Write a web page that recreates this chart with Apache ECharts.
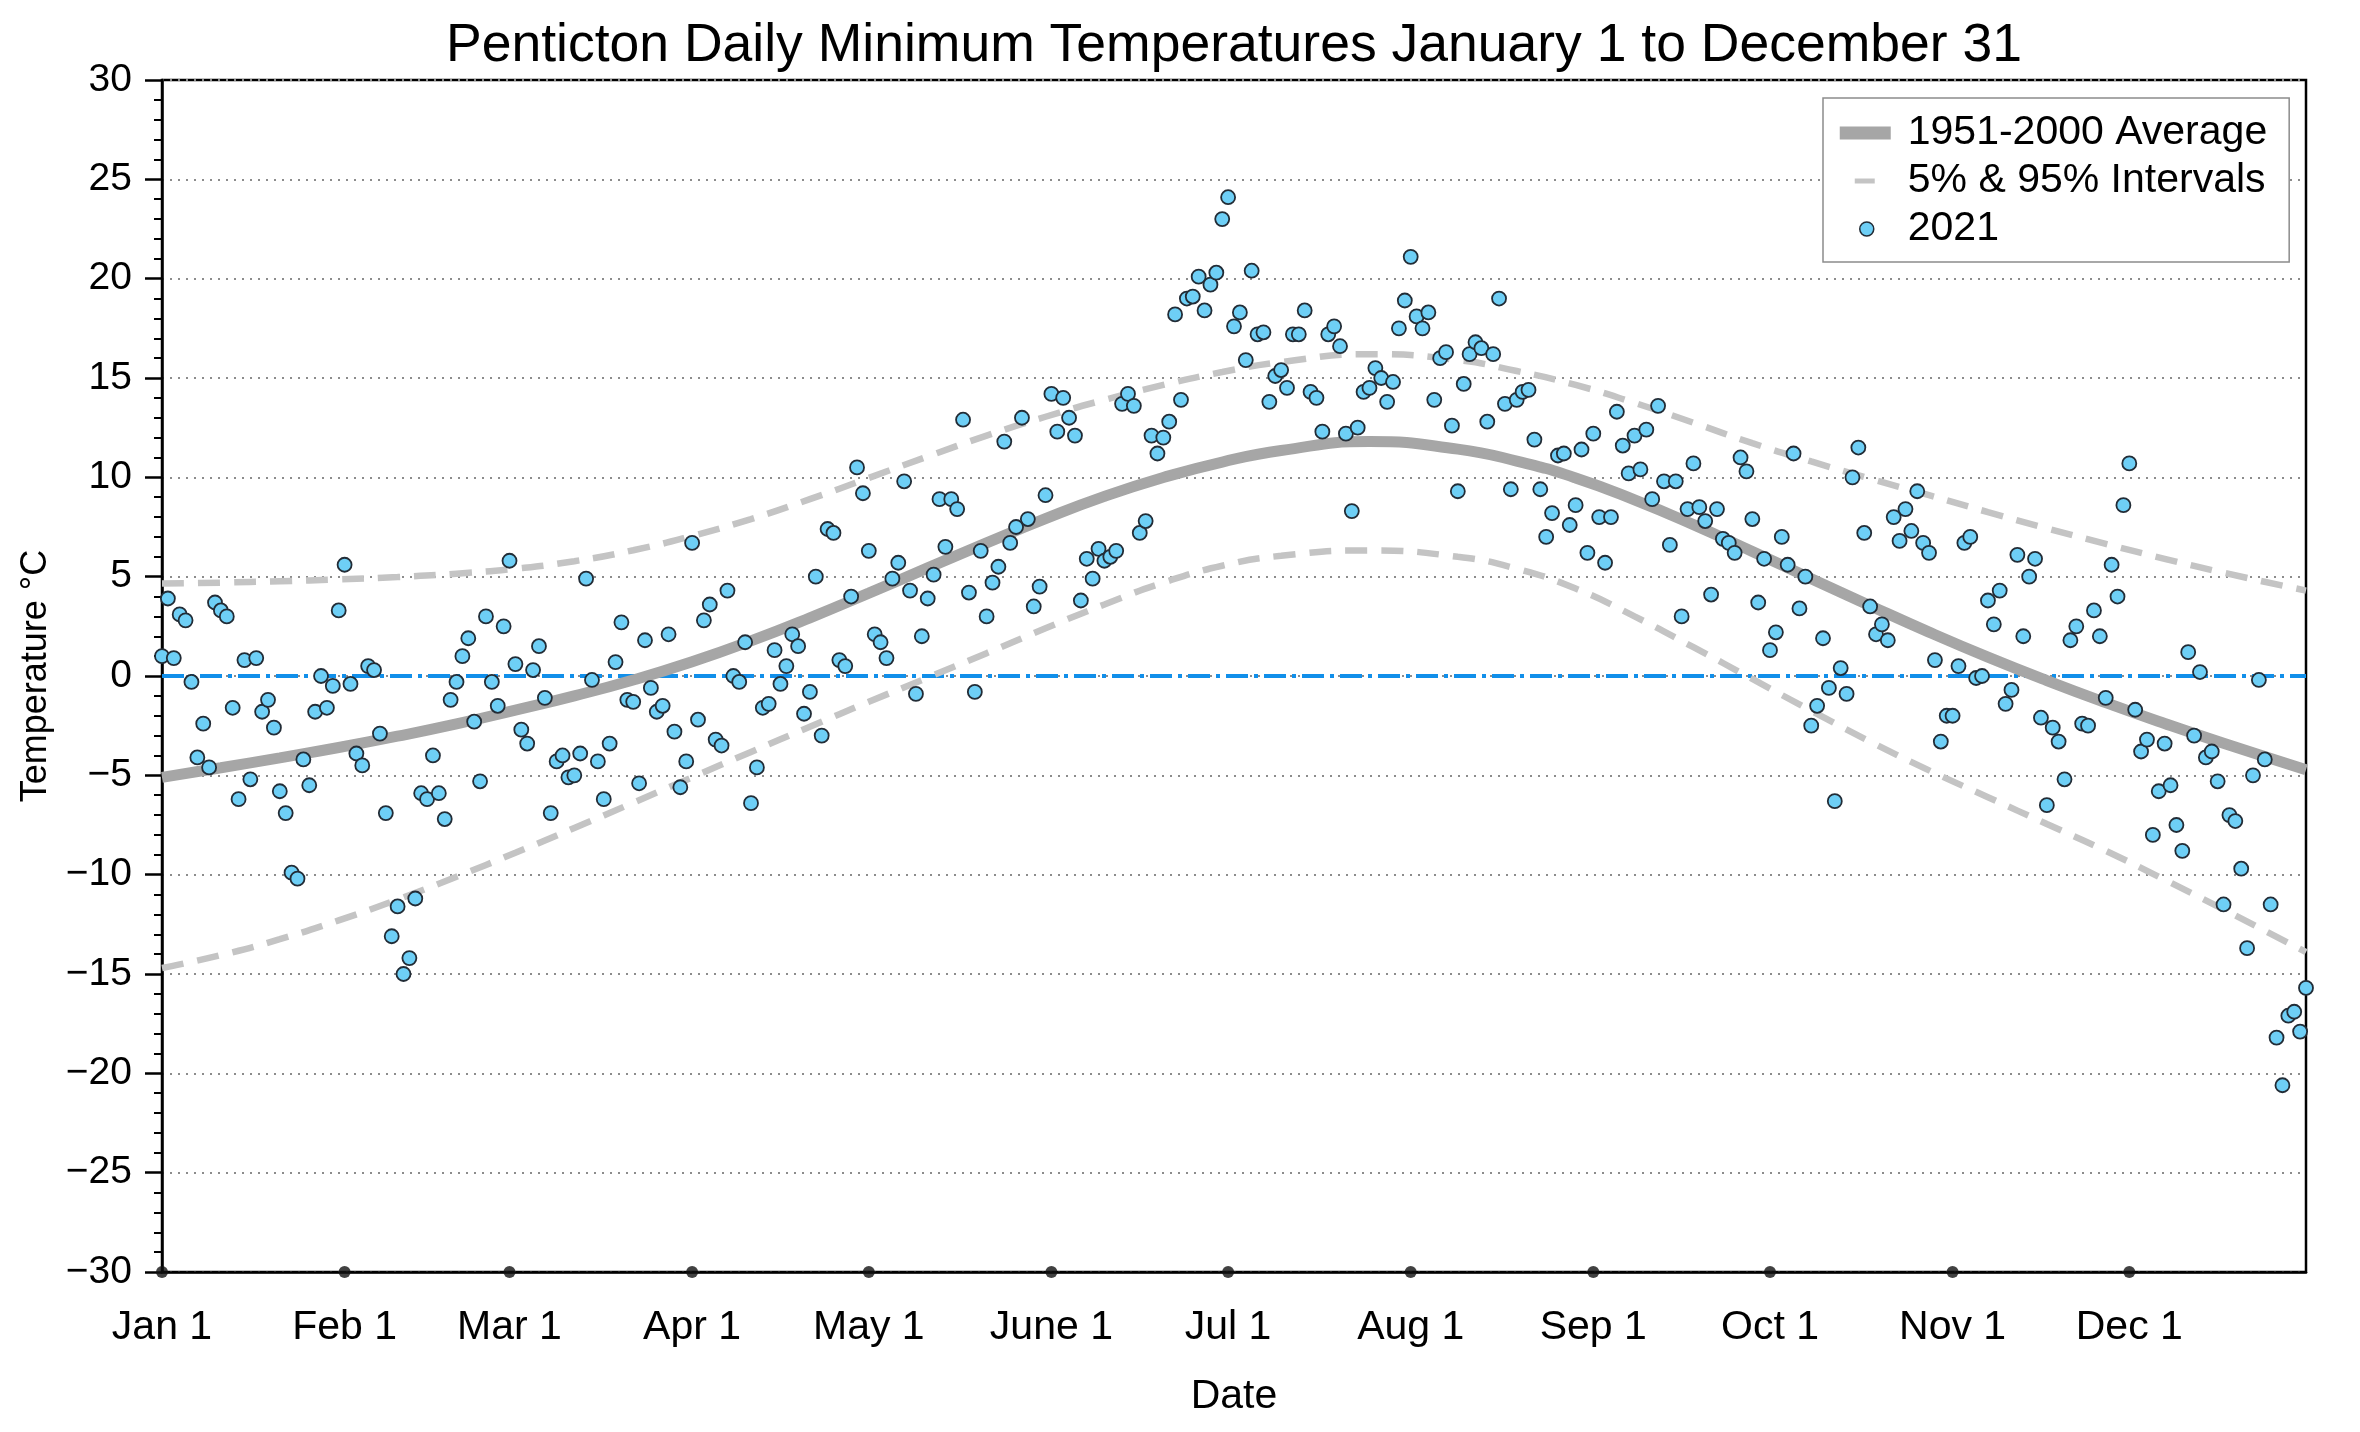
<!DOCTYPE html>
<html>
<head>
<meta charset="utf-8">
<title>Penticton Daily Minimum Temperatures</title>
<script src="https://cdn.jsdelivr.net/npm/echarts@6/dist/echarts.min.js"></script>
<style>
html,body{margin:0;padding:0;background:#ffffff;}
#chart{width:2360px;height:1432px;}
</style>
</head>
<body>
<div id="chart"></div>
<script>
// ---- data ----
const monthDays = [0, 31, 59, 90, 120, 151, 181, 212, 243, 273, 304, 334];
const monthLabels = ['Jan 1', 'Feb 1', 'Mar 1', 'Apr 1', 'May 1', 'June 1', 'Jul 1', 'Aug 1', 'Sep 1', 'Oct 1', 'Nov 1', 'Dec 1'];
const yTicks = [-30, -25, -20, -15, -10, -5, 0, 5, 10, 15, 20, 25, 30];

// 2021 daily minimum temperatures, day 0 = Jan 1
const temps2021 = [
  1.0, 3.9, 0.9, 3.1, 2.8, -0.3, -4.1, -2.4, -4.6, 3.7,
  3.3, 3.0, -1.6, -6.2, 0.8, -5.2, 0.9, -1.8, -1.2, -2.6,
  -5.8, -6.9, -9.9, -10.2, -4.2, -5.5, -1.8, 0.0, -1.6, -0.5,
  3.3, 5.6, -0.4, -3.9, -4.5, 0.5, 0.3, -2.9, -6.9, -13.1,
  -11.6, -15.0, -14.2, -11.2, -5.9, -6.2, -4.0, -5.9, -7.2, -1.2,
  -0.3, 1.0, 1.9, -2.3, -5.3, 3.0, -0.3, -1.5, 2.5, 5.8,
  0.6, -2.7, -3.4, 0.3, 1.5, -1.1, -6.9, -4.3, -4.0, -5.1,
  -5.0, -3.9, 4.9, -0.2, -4.3, -6.2, -3.4, 0.7, 2.7, -1.2,
  -1.3, -5.4, 1.8, -0.6, -1.8, -1.5, 2.1, -2.8, -5.6, -4.3,
  6.7, -2.2, 2.8, 3.6, -3.2, -3.5, 4.3, 0.0, -0.3, 1.7,
  -6.4, -4.6, -1.6, -1.4, 1.3, -0.4, 0.5, 2.1, 1.5, -1.9,
  -0.8, 5.0, -3.0, 7.4, 7.2, 0.8, 0.5, 4.0, 10.5, 9.2,
  6.3, 2.1, 1.7, 0.9, 4.9, 5.7, 9.8, 4.3, -0.9, 2.0,
  3.9, 5.1, 8.9, 6.5, 8.9, 8.4, 12.9, 4.2, -0.8, 6.3,
  3.0, 4.7, 5.5, 11.8, 6.7, 7.5, 13.0, 7.9, 3.5, 4.5,
  9.1, 14.2, 12.3, 14.0, 13.0, 12.1, 3.8, 5.9, 4.9, 6.4,
  5.8, 6.0, 6.3, 13.7, 14.2, 13.6, 7.2, 7.8, 12.1, 11.2,
  12.0, 12.8, 18.2, 13.9, 19.0, 19.1, 20.1, 18.4, 19.7, 20.3,
  23.0, 24.1, 17.6, 18.3, 15.9, 20.4, 17.2, 17.3, 13.8, 15.1,
  15.4, 14.5, 17.2, 17.2, 18.4, 14.3, 14.0, 12.3, 17.2, 17.6,
  16.6, 12.2, 8.3, 12.5, 14.3, 14.5, 15.5, 15.0, 13.8, 14.8,
  17.5, 18.9, 21.1, 18.1, 17.5, 18.3, 13.9, 16.0, 16.3, 12.6,
  9.3, 14.7, 16.2, 16.8, 16.5, 12.8, 16.2, 19.0, 13.7, 9.4,
  13.9, 14.3, 14.4, 11.9, 9.4, 7.0, 8.2, 11.1, 11.2, 7.6,
  8.6, 11.4, 6.2, 12.2, 8.0, 5.7, 8.0, 13.3, 11.6, 10.2,
  12.1, 10.4, 12.4, 8.9, 13.6, 9.8, 6.6, 9.8, 3.0, 8.4,
  10.7, 8.5, 7.8, 4.1, 8.4, 6.9, 6.7, 6.2, 11.0, 10.3,
  7.9, 3.7, 5.9, 1.3, 2.2, 7.0, 5.6, 11.2, 3.4, 5.0,
  -2.5, -1.5, 1.9, -0.6, -6.3, 0.4, -0.9, 10.0, 11.5, 7.2,
  3.5, 2.1, 2.6, 1.8, 8.0, 6.8, 8.4, 7.3, 9.3, 6.7,
  6.2, 0.8, -3.3, -2.0, -2.0, 0.5, 6.7, 7.0, -0.1, 0.0,
  3.8, 2.6, 4.3, -1.4, -0.7, 6.1, 2.0, 5.0, 5.9, -2.1,
  -6.5, -2.6, -3.3, -5.2, 1.8, 2.5, -2.4, -2.5, 3.3, 2.0,
  -1.1, 5.6, 4.0, 8.6, 10.7, -1.7, -3.8, -3.2, -8.0, -5.8,
  -3.4, -5.5, -7.5, -8.8, 1.2, -3.0, 0.2, -4.1, -3.8, -5.3,
  -11.5, -7.0, -7.3, -9.7, -13.7, -5.0, -0.2, -4.2, -11.5, -18.2,
  -20.6, -17.1, -16.9, -17.9, -15.7
];

const curveDays = [0, 10, 20, 30, 40, 50, 60, 70, 80, 90, 100, 110, 120, 130, 140, 150, 160, 170, 180, 190,
                   205, 220, 230, 240, 250, 260, 270, 280, 290, 300, 310, 320, 330, 340, 350, 364];
const avgVals = [-5.1, -4.62, -4.12, -3.6, -3.03, -2.41, -1.72, -1.0, -0.2, 0.72, 1.77, 2.93, 4.17, 5.44, 6.7, 7.92, 9.04, 9.99, 10.77, 11.35,
                 11.8, 11.42, 10.82, 9.97, 8.87, 7.62, 6.27, 4.9, 3.54, 2.21, 0.95, -0.23, -1.34, -2.39, -3.39, -4.72];
const upperVals = [4.65, 4.7, 4.77, 4.86, 4.98, 5.15, 5.4, 5.78, 6.33, 7.05, 7.9, 8.9, 9.97, 11.05, 12.1, 13.05, 13.9, 14.65, 15.3, 15.8,
                   16.2, 15.9, 15.35, 14.65, 13.75, 12.75, 11.72, 10.8, 9.93, 9.1, 8.25, 7.43, 6.65, 5.9, 5.2, 4.3];
const lowerVals = [-14.7, -14.05, -13.25, -12.3, -11.25, -10.1, -8.9, -7.65, -6.38, -5.1, -3.82, -2.55, -1.3, -0.08, 1.15, 2.4, 3.6, 4.7, 5.55, 6.05,
                   6.32, 6.0, 5.4, 4.4, 3.0, 1.45, -0.15, -1.75, -3.3, -4.75, -6.1, -7.45, -8.8, -10.25, -11.75, -13.9];
const zeroLine = [0, 0];

// ---- chart ----
const FONT = '"Liberation Sans", Arial, Helvetica, sans-serif';
const pairs = (xs, ys) => xs.map((x, i) => [x, ys[i]]);

const chart = echarts.init(document.getElementById('chart'), null, {renderer: 'canvas', width: 2360, height: 1432});

const option = {
  backgroundColor: '#ffffff',
  animation: false,
  textStyle: {fontFamily: FONT, color: '#000'},
  title: {
    text: 'Penticton Daily Minimum Temperatures January 1 to December 31',
    left: 1234,
    textAlign: 'center',
    top: 19,
    padding: 0,
    textStyle: {fontFamily: FONT, fontSize: 53.5, fontWeight: 'normal', color: '#000'}
  },
  grid: {
    left: 162, right: 54, top: 80, bottom: 160,
    show: true, borderColor: '#000', borderWidth: 2.5, backgroundColor: 'transparent'
  },
  legend: {
    orient: 'vertical',
    left: 1823,
    top: 98,
    padding: [13, 22, 11, 16],
    itemGap: 4,
    itemWidth: 63,
    itemHeight: 14,
    selectedMode: false,
    backgroundColor: '#ffffff',
    borderColor: '#8c8c8c',
    borderWidth: 1.5,
    borderRadius: 0,
    textStyle: {fontFamily: FONT, fontSize: 41, color: '#000', lineHeight: 44},
    data: [
      {name: '1951-2000 Average', icon: 'path://M0,0M63,14M0,0.5h51v13h-51z',
       itemStyle: {color: '#a6a6a6', borderWidth: 0}},
      {name: '5% & 95% Intervals', icon: 'path://M0,0M63,14M15,4.5h20v5h-20z',
       itemStyle: {color: '#c4c4c4', borderWidth: 0}},
      {name: '2021', icon: 'path://M0,0M63,14M20,7a7,7 0 1,0 14,0a7,7 0 1,0 -14,0z',
       itemStyle: {color: '#6ecff6', borderColor: '#222c36', borderWidth: 1.5}}
    ]
  },
  xAxis: {
    type: 'value',
    min: 0,
    max: 364,
    name: 'Date',
    nameLocation: 'middle',
    nameGap: 104,
    nameTextStyle: {fontFamily: FONT, fontSize: 41, color: '#000'},
    axisLine: {show: true, onZero: false, lineStyle: {color: '#000', width: 2.5}},
    axisTick: {show: false},
    splitLine: {show: false},
    axisLabel: {
      customValues: monthDays,
      margin: 35,
      fontFamily: FONT,
      fontSize: 41,
      color: '#000',
      formatter: function (v) {
        const i = monthDays.indexOf(Math.round(v));
        return i >= 0 ? monthLabels[i] : '';
      }
    }
  },
  yAxis: {
    type: 'value',
    min: yTicks[0],
    max: yTicks[yTicks.length - 1],
    interval: 5,
    name: 'Temperature °C',
    nameLocation: 'middle',
    nameGap: 108,
    nameTextStyle: {fontFamily: FONT, fontSize: 36, color: '#000'},
    axisLine: {show: true, lineStyle: {color: '#000', width: 2.5}},
    axisTick: {show: true, inside: false, length: 17, lineStyle: {color: '#000', width: 2.5}},
    minorTick: {show: true, splitNumber: 5, length: 8, lineStyle: {color: '#000', width: 2}},
    splitLine: {show: true, lineStyle: {color: '#8c8c8c', width: 2, type: [2, 6]}},
    axisLabel: {
      margin: 30,
      fontFamily: FONT,
      fontSize: 39,
      color: '#000',
      formatter: function (v) { return v < 0 ? '\u2212' + Math.abs(v) : String(v); }
    }
  },
  series: [
    {
      name: 'zero',
      type: 'line',
      data: [[0, zeroLine[0]], [364, zeroLine[1]]],
      symbol: 'none',
      silent: true,
      z: 1,
      color: '#118fea',
      lineStyle: {color: '#118fea', width: 4, type: [22, 6, 4, 6]}
    },
    {
      name: '5% & 95% Intervals',
      type: 'line',
      data: pairs(curveDays, upperVals),
      smooth: 0.5,
      symbol: 'none',
      silent: true,
      z: 2,
      color: '#c4c4c4',
      lineStyle: {color: '#c4c4c4', width: 6.5, type: [22, 14]}
    },
    {
      name: '5% & 95% Intervals',
      type: 'line',
      data: pairs(curveDays, lowerVals),
      smooth: 0.5,
      symbol: 'none',
      silent: true,
      z: 2,
      color: '#c4c4c4',
      lineStyle: {color: '#c4c4c4', width: 6.5, type: [22, 14]}
    },
    {
      name: '1951-2000 Average',
      type: 'line',
      data: pairs(curveDays, avgVals),
      smooth: 0.5,
      symbol: 'none',
      silent: true,
      z: 3,
      color: '#a6a6a6',
      lineStyle: {color: '#a6a6a6', width: 11}
    },
    {
      name: '2021',
      type: 'scatter',
      data: temps2021.map((v, i) => [i, v]),
      symbol: 'circle',
      symbolSize: 14,
      clip: false,
      z: 5,
      itemStyle: {color: '#6ecff6', borderColor: '#222c36', borderWidth: 1.8, opacity: 1}
    },
    {
      name: 'monthMarks',
      type: 'scatter',
      data: monthDays.map(d => [d, yTicks[0]]),
      symbol: 'circle',
      symbolSize: 12,
      clip: false,
      silent: true,
      z: 6,
      itemStyle: {color: '#111111'}
    }
  ]
};

chart.setOption(option);
</script>
</body>
</html>
